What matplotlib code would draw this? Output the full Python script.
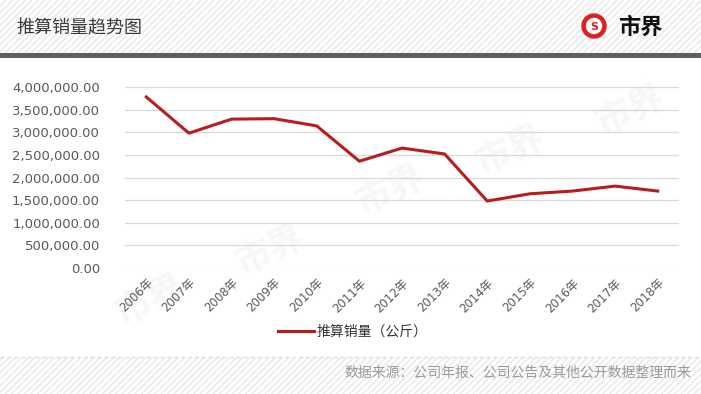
import numpy as np
import matplotlib
matplotlib.use("Agg")
import matplotlib.pyplot as plt
from matplotlib.patches import Rectangle, Circle
from matplotlib.ticker import FuncFormatter

plt.rcParams["font.family"] = ["DejaVu Sans", "Noto Sans CJK SC"]

# ------------------------------------------------
# data
# ------------------------------------------------
years = ["2006年", "2007年", "2008年", "2009年", "2010年", "2011年", "2012年",
         "2013年", "2014年", "2015年", "2016年", "2017年", "2018年"]
sales = [3780000, 2980000, 3290000, 3300000, 3140000, 2360000, 2650000,
         2520000, 1480000, 1640000, 1700000, 1810000, 1700000]
yticks = [0, 500000, 1000000, 1500000, 2000000, 2500000, 3000000, 3500000, 4000000]

title = "推算销量趋势图"
series_name = "推算销量（公斤）"
source = "数据来源：公司年报、公司公告及其他公开数据整理而来"

W, H = 701, 394
fig = plt.figure(figsize=(W / 100, H / 100), dpi=100)
fig.patch.set_facecolor("white")

# ------------------------------------------------
# background: striped header / footer in pixel coords
# ------------------------------------------------
bg = fig.add_axes([0, 0, 1, 1])
bg.set_xlim(0, W)
bg.set_ylim(H, 0)
bg.axis("off")


def stripes(y0, y1):
    clip = Rectangle((0, y0), W, y1 - y0, transform=bg.transData)
    for x in np.arange(-60, W + 60, 6.5):
        ln, = bg.plot([x, x + (y1 - y0)], [y1, y0], color="#ececec", lw=1.3,
                      solid_capstyle="butt", zorder=1)
        ln.set_clip_path(clip)


stripes(0, 53)
stripes(357, H)
bg.add_patch(Rectangle((0, 53), W, 5, color="#5f5f5f", lw=0, zorder=2))
bg.plot([0, W], [357, 357], color="#dddddd", lw=1, ls=(0, (3, 2)), zorder=2)

bg.text(16, 28, title, fontsize=13, color="#3a3a3a", va="center", ha="left",
        family=["Noto Sans CJK SC"], zorder=3)

# logo
bg.add_patch(Circle((594, 26), 12, color="#e02020", zorder=3))
bg.add_patch(Circle((594, 26), 7.5, color="white", zorder=4))
bg.text(594, 26.5, "S", fontsize=8, color="#e02020", weight="bold",
        ha="center", va="center", zorder=5)
bg.text(618, 27, "市界", fontsize=16, color="#111111", weight="heavy",
        ha="left", va="center", family=["Noto Sans CJK SC"], zorder=3)

bg.text(691, 373, source, fontsize=10, color="#9a9a9a", ha="right", va="center",
        family=["Noto Sans CJK SC"], zorder=3)

# faint watermarks
for wx, wy in [(150, 300), (270, 250), (390, 190), (510, 150), (630, 110)]:
    bg.text(wx, wy, "市界", fontsize=26, color="#f7f7f7", weight="heavy",
            rotation=25, ha="center", va="center",
            family=["Noto Sans CJK SC"], zorder=1)

# ------------------------------------------------
# chart
# ------------------------------------------------
left, right, top, bottom = 125, 679, 87, 268
ax = fig.add_axes([left / W, 1 - bottom / H, (right - left) / W, (bottom - top) / H])
ax.patch.set_alpha(0)

x = np.arange(len(years))
line, = ax.plot(x, sales, color="#b81c1c", lw=2.2, label=series_name,
                solid_joinstyle="round", zorder=3)

ax.set_xlim(-0.5, len(years) - 0.5)
ax.set_ylim(0, 4000000)
ax.set_yticks(yticks)
ax.yaxis.set_major_formatter(FuncFormatter(lambda v, p: f"{v:,.2f}"))
ax.grid(axis="y", color="#d9d9d9", lw=0.9)
ax.set_axisbelow(True)
for s in ax.spines.values():
    s.set_visible(False)
ax.tick_params(axis="both", length=0, colors="#595959")
ax.tick_params(axis="y", labelsize=9.5, pad=18)

ax.set_xticks(x)
ax.set_xticklabels(years, rotation=45, ha="right", rotation_mode="anchor",
                   fontsize=8.5, color="#595959")
ax.tick_params(axis="x", pad=6)

fig.legend(handles=[line], labels=[series_name], loc="center",
           bbox_to_anchor=(353 / W, 1 - 332 / H), frameon=False,
           prop={"family": ["Noto Sans CJK SC"], "size": 10},
           handlelength=2.6, handletextpad=0.2, labelcolor="#333333")

fig.savefig("out.png", dpi=100)
